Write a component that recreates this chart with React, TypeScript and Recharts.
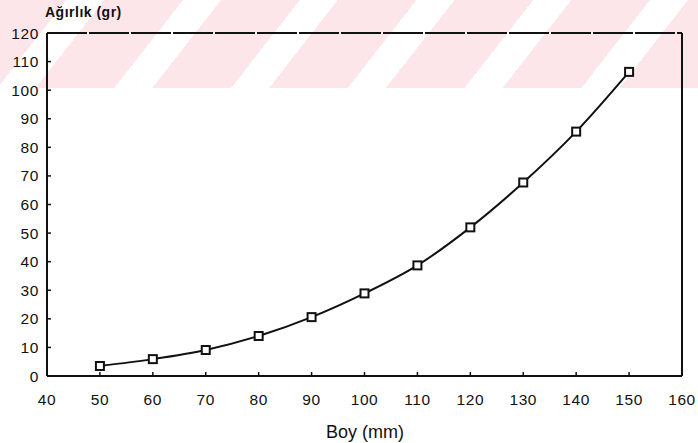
import { LineChart, Line, XAxis, YAxis, ReferenceLine } from 'recharts'

const boy = [50, 60, 70, 80, 90, 100, 110, 120, 130, 140, 150]
const agirlik = [3.5, 5.9, 9.1, 14, 20.6, 28.9, 38.7, 52, 67.7, 85.5, 106.4]
const xTicks = [40, 50, 60, 70, 80, 90, 100, 110, 120, 130, 140, 150, 160]
const yTicks = [0, 10, 20, 30, 40, 50, 60, 70, 80, 90, 100, 110, 120]

const data = boy.map((b, i) => ({ boy: b, agirlik: agirlik[i] }))

const font = '"Liberation Sans", Arial, sans-serif'
const tickStyle = { fontSize: 15.5, fill: '#111', fontFamily: font, letterSpacing: 0.6 }

const SquareDot = (props: any) => {
  const { cx, cy } = props
  if (cx == null || cy == null) return null
  return <rect x={cx - 4} y={cy - 4} width={8} height={8} fill="#fff" stroke="#111" strokeWidth={2} />
}

export default function App() {
  return (
    <div style={{ position: 'absolute', left: 0, top: 0, width: 698, height: 443, background: '#fff', overflow: 'hidden' }}>
      <div style={{
        position: 'absolute', left: 0, top: 0, width: 698, height: 88,
        background: 'repeating-linear-gradient(-52deg, #fde6ea 0px, #fde6ea 62px, #ffffff 62px, #ffffff 92px)',
      }} />
      <div style={{ position: 'absolute', left: 45, top: 4, fontFamily: font, fontSize: 14, fontWeight: 600, letterSpacing: 0.5, color: '#111' }}>
        Ağırlık (gr)
      </div>
      <LineChart width={698} height={443} data={data} margin={{ top: 33, right: 16, left: 0, bottom: 37 }}
        style={{ position: 'absolute', left: 0, top: 0 }}>
        <XAxis dataKey="boy" type="number" domain={[40, 160]} ticks={xTicks} interval={0}
          height={30} tickSize={-4} tickMargin={22} tick={tickStyle}
          axisLine={{ stroke: '#111', strokeWidth: 2 }} tickLine={{ stroke: '#111', strokeWidth: 1.5 }} />
        <YAxis type="number" domain={[0, 120]} ticks={yTicks} interval={0}
          width={47} tickSize={-4} tickMargin={12} tick={tickStyle}
          axisLine={{ stroke: '#111', strokeWidth: 2 }} tickLine={{ stroke: '#111', strokeWidth: 1.5 }} />
        <ReferenceLine y={120} stroke="#111" strokeWidth={1.8} strokeDasharray="40 2" />
        <ReferenceLine x={160} stroke="#111" strokeWidth={2} />
        <Line dataKey="agirlik" type="monotone" stroke="#111" strokeWidth={2}
          dot={<SquareDot />} activeDot={false} isAnimationActive={false} />
      </LineChart>
      <div style={{ position: 'absolute', left: 0, width: 730, top: 422, lineHeight: '20px', textAlign: 'center', fontFamily: font, fontSize: 18, color: '#111' }}>
        Boy (mm)
      </div>
    </div>
  )
}
